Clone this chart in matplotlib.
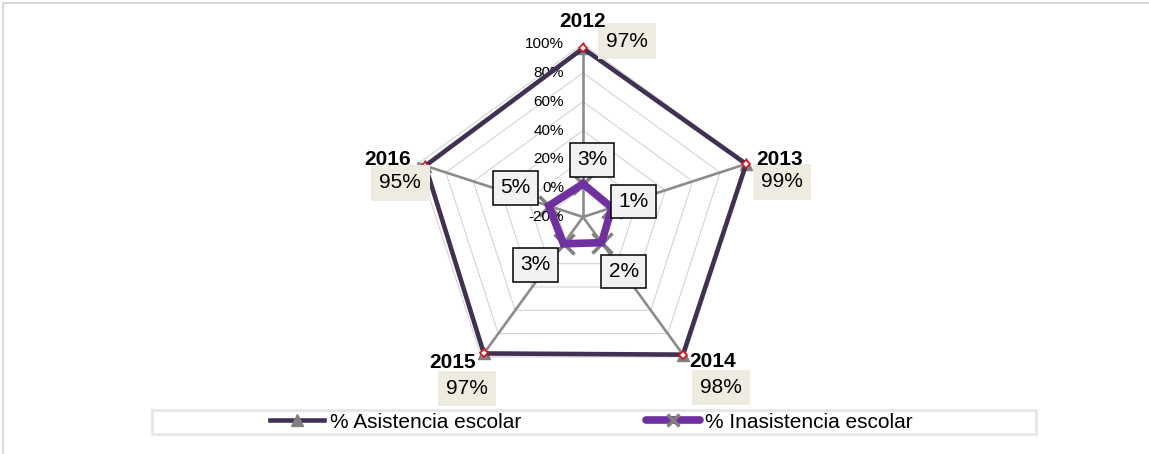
import matplotlib.pyplot as plt
from matplotlib.lines import Line2D
from matplotlib.patches import Rectangle
import numpy as np

plt.rcParams['font.family'] = ['Liberation Sans', 'DejaVu Sans']

years = ['2012', '2013', '2014', '2015', '2016']
asistencia = [97, 99, 98, 97, 95]
inasistencia = [3, 1, 2, 3, 5]
r_ticks = [-20, 0, 20, 40, 60, 80, 100]

# label offsets in pixels (styling only)
asis_off = [(44, 7), (36, -18), (38, -33), (-17, -35), (-25, -17)]
inas_off = [(9, 24), (22, 6), (22, -29), (-28, -21), (-33, 18)]
cat_off = [(0, 23, 'center'), (9, 4, 'left'), (5, -5, 'left'), (-5, -6, 'right'), (-8, 4, 'right')]

dark = '#403152'
purple = '#7030A0'
gray = '#808080'

fig = plt.figure(figsize=(11.49, 4.54), dpi=100)
fig.patches.append(Rectangle((3 / 1149, -0.1), 1.2, 1 - 3 / 454 + 0.1, transform=fig.transFigure,
                             fill=False, edgecolor='#D9D9D9', lw=1.5))

ax = fig.add_axes([0.35683, 0.14097, 0.30113, 0.76211], projection='polar')
ax.set_theta_zero_location('N')
ax.set_theta_direction(-1)
ax.set_ylim(-20, 100)
ax.grid(False)
ax.set_xticks([])
ax.set_yticks([])
ax.spines['polar'].set_visible(False)
ax.patch.set_alpha(0)

n = len(years)
theta = np.deg2rad(np.arange(n) * 360 / n)
tc = np.append(theta, theta[0])

# pentagon gridlines
for r in r_ticks[1:]:
    ax.plot(tc, [r] * (n + 1), color='#D4D4D4', lw=0.8, zorder=1, clip_on=False)
# spokes
for t in theta:
    ax.plot([t, t], [-20, 100], color='#8C8C8C', lw=1.9, zorder=1.5, clip_on=False)

# radial tick labels
for r in r_ticks:
    ax.annotate(f'{r}%', xy=(0, r), xytext=(-19, 0), textcoords='offset pixels',
                ha='right', va='center', fontsize=11, annotation_clip=False)

# Asistencia
a_c = asistencia + asistencia[:1]
ax.plot(theta, asistencia, ls='none', marker='^', ms=9, color=gray, zorder=2, clip_on=False)
ax.plot(tc, a_c, color=dark, lw=3.3, zorder=3, clip_on=False)
ax.plot(theta, asistencia, ls='none', marker='D', ms=4.2, mfc='white', mec='#E0101A', mew=1.2,
        zorder=4, clip_on=False)

# Inasistencia
i_c = inasistencia + inasistencia[:1]
ax.plot(theta, inasistencia, ls='none', marker='x', ms=14, mew=2.5, color=gray, zorder=2)
ax.plot(tc, i_c, color=purple, lw=5.5, zorder=3, solid_joinstyle='miter')

for t, v, (dx, dy) in zip(theta, asistencia, asis_off):
    ax.annotate(f'{v}%', xy=(t, v), xytext=(dx, dy), textcoords='offset pixels',
                ha='center', va='center', fontsize=15, annotation_clip=False, zorder=6,
                bbox=dict(boxstyle='square,pad=0.4', fc='#EEECE1', ec='none'))

for t, v, (dx, dy) in zip(theta, inasistencia, inas_off):
    ax.annotate(f'{v}%', xy=(t, v), xytext=(dx, dy), textcoords='offset pixels',
                ha='center', va='center', fontsize=15, annotation_clip=False, zorder=6,
                bbox=dict(boxstyle='square,pad=0.35', fc='#F2F2F2', ec='black', lw=1.1))

for t, y, (dx, dy, ha) in zip(theta, years, cat_off):
    ax.annotate(y, xy=(t, 100), xytext=(dx, dy), textcoords='offset pixels',
                ha=ha, va='center', fontsize=15, fontweight='bold', annotation_clip=False,
                zorder=8)

# legend
fig.patches.append(Rectangle((152 / 1149, 1 - 434 / 454), 884 / 1149, 24 / 454,
                             transform=fig.transFigure, fill=False, edgecolor='#E6E6E6', lw=2))
handles = [
    Line2D([], [], color=dark, lw=3.3, marker='^', ms=9, mfc=gray, mec=gray),
    Line2D([], [], color=purple, lw=5.5, marker='x', ms=9, mew=2.5, mec=gray,
           solid_capstyle='round'),
]
fig.legend(handles, ['% Asistencia escolar', '% Inasistencia escolar'], loc='center',
           bbox_to_anchor=(591.5 / 1149, 1 - 422 / 454), ncol=2, frameon=False,
           fontsize=15, handlelength=2.6, handletextpad=0.25, columnspacing=6.0,
           borderpad=0, borderaxespad=0)

fig.savefig('out.png', dpi=100)
